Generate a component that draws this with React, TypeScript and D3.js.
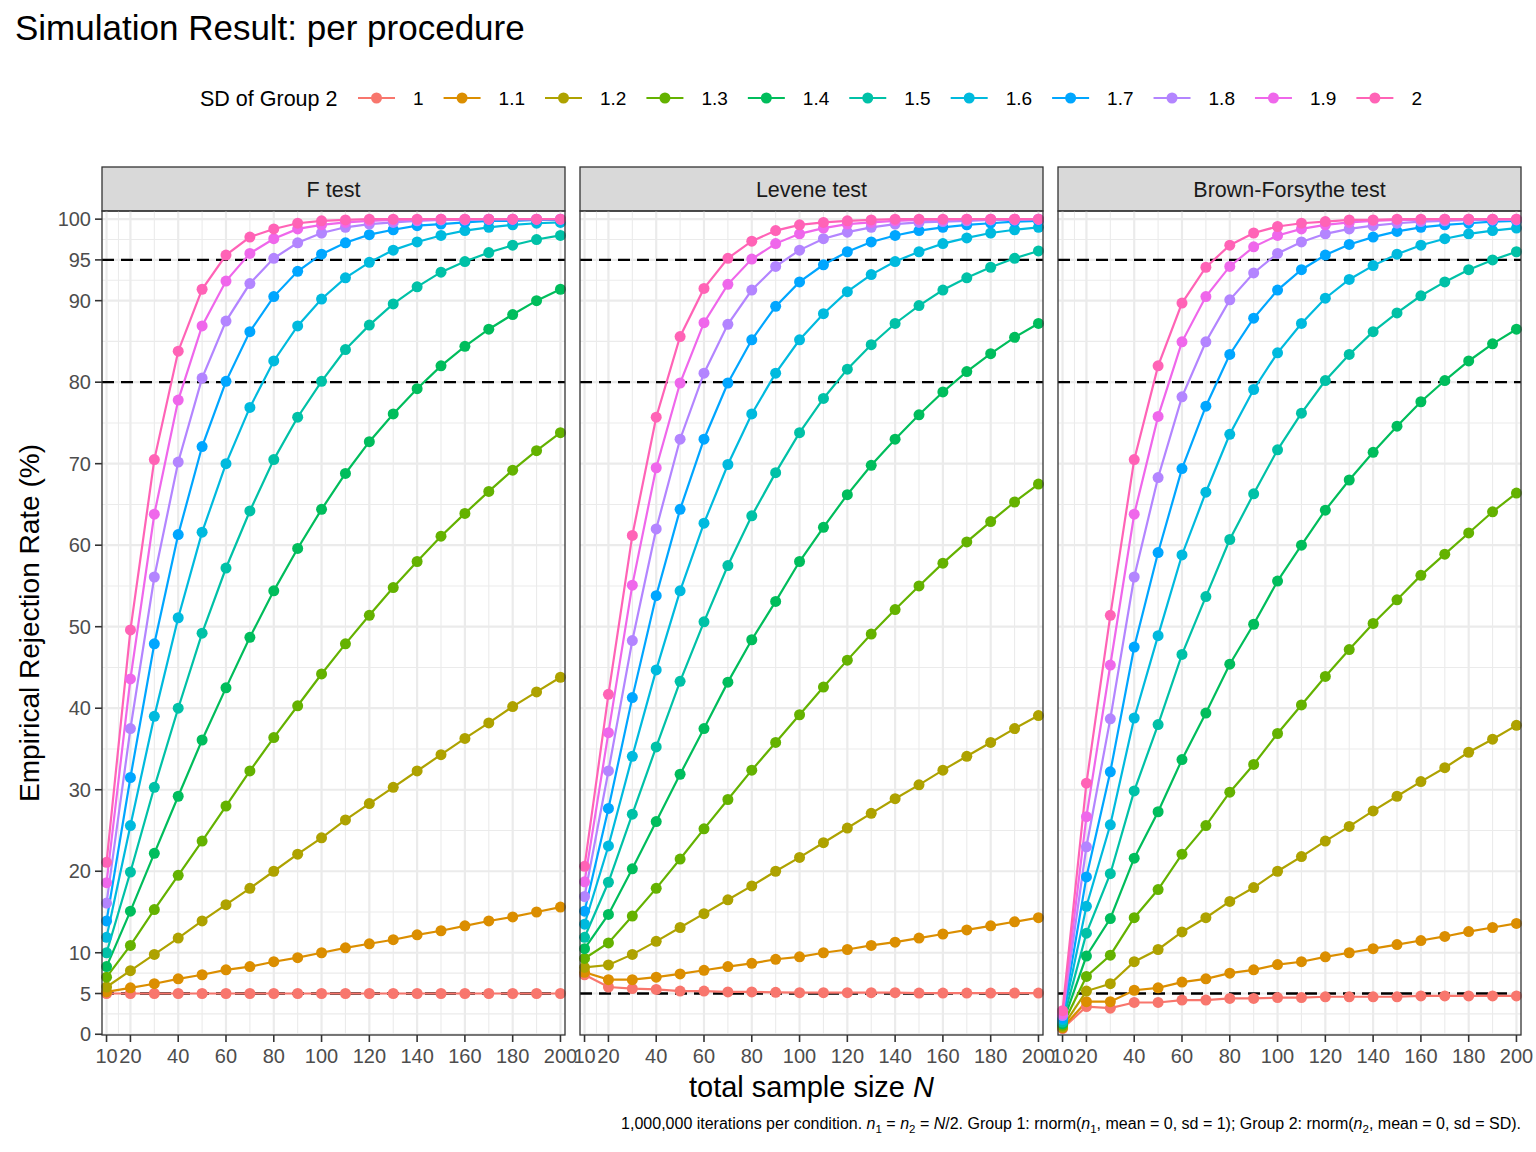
import React, { useEffect, useRef } from "react";
import * as d3 from "d3";

// data (empirical rejection rate, %)
const sampleSizes = [10, 20, 30, 40, 50, 60, 70, 80, 90, 100, 110, 120, 130, 140, 150, 160, 170, 180, 190, 200];
const sdLevels = ["1", "1.1", "1.2", "1.3", "1.4", "1.5", "1.6", "1.7", "1.8", "1.9", "2"];
const sdColors = ["#F8766D", "#DB8E00", "#AEA200", "#64B200", "#00BD5C", "#00C1A7", "#00BADE", "#00A6FF", "#B385FF", "#EF67EB", "#FF63B6"];
const procedures = ["F test", "Levene test", "Brown-Forsythe test"];

const fTestRates = [
  [5.0, 5.0, 5.0, 5.0, 5.0, 5.0, 5.0, 5.0, 5.0, 5.0, 5.0, 5.0, 5.0, 5.0, 5.0, 5.0, 5.0, 5.0, 5.0, 5.0],
  [5.2, 5.7, 6.2, 6.8, 7.3, 7.9, 8.3, 8.9, 9.4, 10.0, 10.6, 11.1, 11.6, 12.2, 12.7, 13.3, 13.9, 14.4, 15.0, 15.6],
  [5.8, 7.8, 9.8, 11.8, 13.9, 15.9, 17.9, 20.0, 22.1, 24.1, 26.3, 28.3, 30.3, 32.3, 34.3, 36.3, 38.2, 40.2, 42.0, 43.8],
  [7.0, 10.9, 15.3, 19.5, 23.7, 28.0, 32.3, 36.4, 40.3, 44.2, 47.9, 51.4, 54.8, 58.0, 61.1, 63.9, 66.6, 69.2, 71.6, 73.8],
  [8.3, 15.1, 22.2, 29.2, 36.1, 42.5, 48.7, 54.4, 59.6, 64.4, 68.8, 72.7, 76.1, 79.2, 82.0, 84.4, 86.5, 88.3, 90.0, 91.4],
  [10.0, 19.9, 30.3, 40.0, 49.2, 57.2, 64.2, 70.5, 75.7, 80.1, 84.0, 87.0, 89.6, 91.7, 93.5, 94.8, 95.9, 96.8, 97.5, 98.0],
  [11.9, 25.6, 39.0, 51.1, 61.6, 70.0, 76.9, 82.6, 86.9, 90.2, 92.8, 94.7, 96.2, 97.2, 98.0, 98.6, 99.0, 99.3, 99.5, 99.6],
  [13.9, 31.5, 47.9, 61.3, 72.1, 80.1, 86.2, 90.5, 93.6, 95.7, 97.1, 98.1, 98.7, 99.2, 99.4, 99.6, 99.8, 99.8, 99.9, 99.9],
  [16.1, 37.5, 56.1, 70.2, 80.5, 87.5, 92.1, 95.2, 97.1, 98.3, 99.0, 99.4, 99.6, 99.8, 99.9, 99.9, 100, 100, 100, 100],
  [18.6, 43.6, 63.8, 77.8, 86.9, 92.4, 95.8, 97.6, 98.8, 99.3, 99.6, 99.8, 99.9, 99.9, 100, 100, 100, 100, 100, 100],
  [21.1, 49.6, 70.5, 83.8, 91.4, 95.6, 97.8, 98.8, 99.5, 99.8, 99.9, 100, 100, 100, 100, 100, 100, 100, 100, 100],
];

const leveneRates = [
  [7.3, 5.8, 5.6, 5.5, 5.3, 5.3, 5.2, 5.2, 5.15, 5.1, 5.1, 5.1, 5.1, 5.1, 5.05, 5.05, 5.05, 5.05, 5.05, 5.05],
  [7.6, 6.7, 6.7, 7.0, 7.4, 7.85, 8.3, 8.7, 9.2, 9.5, 10.0, 10.4, 10.9, 11.3, 11.8, 12.3, 12.8, 13.3, 13.8, 14.3],
  [8.2, 8.5, 9.8, 11.4, 13.1, 14.8, 16.5, 18.2, 20.0, 21.7, 23.5, 25.3, 27.1, 28.9, 30.6, 32.4, 34.1, 35.8, 37.5, 39.1],
  [9.3, 11.2, 14.5, 17.9, 21.5, 25.2, 28.8, 32.4, 35.8, 39.2, 42.6, 45.9, 49.1, 52.1, 55.0, 57.8, 60.4, 62.9, 65.3, 67.5],
  [10.5, 14.7, 20.3, 26.1, 31.9, 37.5, 43.2, 48.4, 53.1, 58.0, 62.2, 66.2, 69.8, 73.0, 76.0, 78.8, 81.3, 83.5, 85.5, 87.2],
  [11.9, 18.65, 27.0, 35.25, 43.3, 50.6, 57.5, 63.6, 68.9, 73.8, 78.0, 81.6, 84.6, 87.2, 89.4, 91.3, 92.8, 94.1, 95.2, 96.1],
  [13.5, 23.1, 34.1, 44.7, 54.4, 62.7, 69.9, 76.1, 81.1, 85.2, 88.4, 91.1, 93.2, 94.8, 96.0, 97.0, 97.7, 98.3, 98.7, 99.0],
  [15.1, 27.7, 41.3, 53.8, 64.4, 73.0, 79.9, 85.2, 89.3, 92.3, 94.4, 96.0, 97.2, 98.0, 98.6, 99.0, 99.3, 99.5, 99.7, 99.8],
  [16.9, 32.3, 48.3, 62.0, 73.0, 81.1, 87.1, 91.3, 94.2, 96.2, 97.6, 98.4, 99.0, 99.4, 99.6, 99.7, 99.8, 99.9, 99.9, 100],
  [18.7, 37.0, 55.1, 69.5, 79.9, 87.3, 92.0, 95.1, 97.0, 98.2, 98.9, 99.4, 99.6, 99.8, 99.9, 99.9, 100, 100, 100, 100],
  [20.6, 41.7, 61.2, 75.7, 85.6, 91.5, 95.2, 97.3, 98.6, 99.3, 99.6, 99.8, 99.9, 100, 100, 100, 100, 100, 100, 100],
];

const brownForsytheRates = [
  [0.7, 3.4, 3.2, 3.9, 3.9, 4.2, 4.2, 4.4, 4.4, 4.5, 4.5, 4.6, 4.6, 4.6, 4.6, 4.7, 4.7, 4.7, 4.7, 4.7],
  [0.8, 4.0, 4.0, 5.4, 5.7, 6.4, 6.8, 7.5, 7.9, 8.55, 8.9, 9.5, 10.0, 10.5, 11.0, 11.5, 12.0, 12.6, 13.1, 13.6],
  [0.9, 5.3, 6.2, 8.9, 10.4, 12.55, 14.3, 16.3, 18.0, 20.0, 21.8, 23.7, 25.5, 27.4, 29.2, 31.0, 32.7, 34.6, 36.2, 37.9],
  [1.1, 7.1, 9.7, 14.3, 17.75, 22.1, 25.6, 29.7, 33.1, 36.9, 40.4, 43.9, 47.2, 50.4, 53.3, 56.3, 58.9, 61.5, 64.1, 66.4],
  [1.3, 9.6, 14.2, 21.6, 27.3, 33.7, 39.4, 45.4, 50.3, 55.6, 60.0, 64.3, 68.0, 71.4, 74.6, 77.6, 80.2, 82.6, 84.7, 86.5],
  [1.5, 12.4, 19.7, 29.85, 38.0, 46.6, 53.7, 60.7, 66.3, 71.7, 76.2, 80.2, 83.4, 86.2, 88.5, 90.6, 92.3, 93.8, 95.0, 96.0],
  [1.8, 15.7, 25.7, 38.8, 48.9, 58.8, 66.5, 73.6, 79.1, 83.6, 87.2, 90.3, 92.6, 94.3, 95.7, 96.8, 97.6, 98.2, 98.6, 98.9],
  [2.0, 19.3, 32.2, 47.5, 59.1, 69.4, 77.05, 83.4, 87.85, 91.3, 93.8, 95.6, 96.9, 97.8, 98.5, 99.0, 99.3, 99.5, 99.7, 99.8],
  [2.3, 23.0, 38.7, 56.1, 68.3, 78.2, 84.95, 90.1, 93.4, 95.8, 97.2, 98.2, 98.8, 99.2, 99.5, 99.7, 99.8, 99.9, 99.9, 99.9],
  [2.5, 26.7, 45.3, 63.8, 75.8, 84.95, 90.5, 94.2, 96.6, 98.0, 98.8, 99.3, 99.6, 99.8, 99.9, 99.9, 100, 100, 100, 100],
  [2.9, 30.8, 51.4, 70.5, 82.0, 89.7, 94.1, 96.8, 98.3, 99.1, 99.5, 99.7, 99.9, 99.9, 100, 100, 100, 100, 100, 100],
];

const xBreaks = [10, 20, 40, 60, 80, 100, 120, 140, 160, 180, 200];
const yBreaks = [0, 5, 10, 20, 30, 40, 50, 60, 70, 80, 90, 95, 100];
const refLines = [5, 80, 95];

const W = 1536;
const H = 1152;
const FONT = '"Liberation Sans", Arial, Helvetica, sans-serif';

// midpoints between neighbouring breaks, like ggplot's minor grid
const midpoints = (b: number[]) => b.slice(1).map((v, i) => (v + b[i]) / 2);

const App = () => {
  const svgRef = useRef(null);

  useEffect(() => {
    document.body.style.margin = "0";
    const svg = d3.select(svgRef.current);
    svg.selectAll("*").remove();

    const allRates = [fTestRates, leveneRates, brownForsytheRates];
    const panelW = 463;
    const panelLefts = [102, 580, 1058];
    const top = 211;
    const bottom = 1035;

    const y = d3.scaleLinear().domain([-0.09, 101]).range([bottom, top]);

    svg.append("rect").attr("width", W).attr("height", H).attr("fill", "#fff");

    // title
    svg.append("text")
      .attr("x", 15).attr("y", 40)
      .attr("font-family", FONT).attr("font-size", 35).attr("fill", "#000")
      .text("Simulation Result: per procedure");

    // legend
    const lg = svg.append("g").attr("transform", "translate(0,98)");
    lg.append("text")
      .attr("x", 200).attr("y", 0).attr("dy", "0.35em")
      .attr("font-family", FONT).attr("font-size", 21.5).attr("fill", "#000")
      .text("SD of Group 2");
    let cx = 358;
    sdLevels.forEach((lab, i) => {
      lg.append("line").attr("x1", cx).attr("x2", cx + 37).attr("y1", 0).attr("y2", 0)
        .attr("stroke", sdColors[i]).attr("stroke-width", 2.2);
      lg.append("circle").attr("cx", cx + 18.5).attr("cy", 0).attr("r", 5.5).attr("fill", sdColors[i]);
      const t = lg.append("text")
        .attr("x", cx + 55).attr("y", 0).attr("dy", "0.35em")
        .attr("font-family", FONT).attr("font-size", 19).attr("fill", "#000")
        .text(lab);
      const w = (t.node() as SVGTextElement).getComputedTextLength();
      cx = cx + 55 + w + 20;
    });

    procedures.forEach((proc, p) => {
      const left = panelLefts[p];
      const x = d3.scaleLinear().domain([8.1, 201.9]).range([left, left + panelW]);
      const g = svg.append("g");

      // strip
      g.append("rect")
        .attr("x", left).attr("y", 167).attr("width", panelW).attr("height", top - 167)
        .attr("fill", "#D9D9D9").attr("stroke", "#333").attr("stroke-width", 1.3);
      g.append("text")
        .attr("x", left + panelW / 2).attr("y", 189).attr("dy", "0.35em")
        .attr("text-anchor", "middle")
        .attr("font-family", FONT).attr("font-size", 21.5).attr("fill", "#1A1A1A")
        .text(proc);

      // grid
      const grid = g.append("g");
      grid.selectAll(".ymin").data(midpoints(yBreaks)).join("line")
        .attr("x1", left).attr("x2", left + panelW)
        .attr("y1", (d) => y(d)).attr("y2", (d) => y(d))
        .attr("stroke", "#EBEBEB").attr("stroke-width", 1.1);
      grid.selectAll(".xmin").data(midpoints(xBreaks)).join("line")
        .attr("y1", top).attr("y2", bottom)
        .attr("x1", (d) => x(d)).attr("x2", (d) => x(d))
        .attr("stroke", "#EBEBEB").attr("stroke-width", 1.1);
      grid.selectAll(".ymaj").data(yBreaks).join("line")
        .attr("x1", left).attr("x2", left + panelW)
        .attr("y1", (d) => y(d)).attr("y2", (d) => y(d))
        .attr("stroke", "#EBEBEB").attr("stroke-width", 2.2);
      grid.selectAll(".xmaj").data(xBreaks).join("line")
        .attr("y1", top).attr("y2", bottom)
        .attr("x1", (d) => x(d)).attr("x2", (d) => x(d))
        .attr("stroke", "#EBEBEB").attr("stroke-width", 2.2);

      // dashed reference lines
      g.selectAll(".ref").data(refLines).join("line")
        .attr("x1", left).attr("x2", left + panelW)
        .attr("y1", (d) => y(d)).attr("y2", (d) => y(d))
        .attr("stroke", "#000").attr("stroke-width", 2.4).attr("stroke-dasharray", "12 7");

      // series
      const line = d3.line<number>()
        .x((_, i) => x(sampleSizes[i]))
        .y((d) => y(d));
      const rates = allRates[p];
      rates.forEach((series, s) => {
        g.append("path")
          .datum(series)
          .attr("d", line)
          .attr("fill", "none")
          .attr("stroke", sdColors[s])
          .attr("stroke-width", 2.2);
      });
      rates.forEach((series, s) => {
        g.append("g").selectAll("circle").data(series).join("circle")
          .attr("cx", (_, i) => x(sampleSizes[i]))
          .attr("cy", (d) => y(d))
          .attr("r", 5.5)
          .attr("fill", sdColors[s]);
      });

      // border
      g.append("rect")
        .attr("x", left).attr("y", top).attr("width", panelW).attr("height", bottom - top)
        .attr("fill", "none").attr("stroke", "#333").attr("stroke-width", 1.3);

      // x axis
      const xa = g.append("g");
      xa.selectAll("line").data(xBreaks).join("line")
        .attr("x1", (d) => x(d)).attr("x2", (d) => x(d))
        .attr("y1", bottom).attr("y2", bottom + 7)
        .attr("stroke", "#333").attr("stroke-width", 1.6);
      xa.selectAll("text").data(xBreaks).join("text")
        .attr("x", (d) => x(d)).attr("y", 1063)
        .attr("text-anchor", "middle")
        .attr("font-family", FONT).attr("font-size", 20).attr("fill", "#4D4D4D")
        .text((d) => d);

      // y axis on first panel only
      if (p === 0) {
        const ya = g.append("g");
        ya.selectAll("line").data(yBreaks).join("line")
          .attr("x1", left - 7).attr("x2", left)
          .attr("y1", (d) => y(d)).attr("y2", (d) => y(d))
          .attr("stroke", "#333").attr("stroke-width", 1.6);
        ya.selectAll("text").data(yBreaks).join("text")
          .attr("x", left - 11).attr("y", (d) => y(d)).attr("dy", "0.35em")
          .attr("text-anchor", "end")
          .attr("font-family", FONT).attr("font-size", 20).attr("fill", "#4D4D4D")
          .text((d) => d);
      }
    });

    // axis titles
    const xt = svg.append("text")
      .attr("x", (102 + 1521) / 2).attr("y", 1097)
      .attr("text-anchor", "middle")
      .attr("font-family", FONT).attr("font-size", 29).attr("fill", "#000");
    xt.append("tspan").text("total sample size ");
    xt.append("tspan").attr("font-style", "italic").text("N");

    svg.append("text")
      .attr("transform", `translate(39,${(top + bottom) / 2}) rotate(-90)`)
      .attr("text-anchor", "middle")
      .attr("font-family", FONT).attr("font-size", 28).attr("fill", "#000")
      .text("Empirical Rejection Rate (%)");

    // caption
    const parts: [string, string][] = [
      ["1,000,000 iterations per condition. ", ""],
      ["n", "i"], ["1", "sub"], [" = ", ""], ["n", "i"], ["2", "sub"], [" = ", ""],
      ["N", "i"], ["/2. Group 1: rnorm(", ""], ["n", "i"], ["1", "sub"],
      [", mean = 0, sd = 1); Group 2: rnorm(", ""], ["n", "i"], ["2", "sub"],
      [", mean = 0, sd = SD).", ""],
    ];
    const cap = svg.append("text")
      .attr("x", 1521).attr("y", 1129)
      .attr("text-anchor", "end")
      .attr("font-family", FONT).attr("font-size", 16).attr("fill", "#000");
    let shifted = false;
    parts.forEach(([t, kind]) => {
      const ts = cap.append("tspan").text(t);
      if (kind === "i") ts.attr("font-style", "italic");
      if (kind === "sub") {
        ts.attr("font-size", 11.5).attr("dy", 4);
        shifted = true;
      } else if (shifted) {
        ts.attr("dy", -4);
        shifted = false;
      }
    });
  }, []);

  return <svg ref={svgRef} width={W} height={H} style={{ display: "block" }} />;
};

export default App;
